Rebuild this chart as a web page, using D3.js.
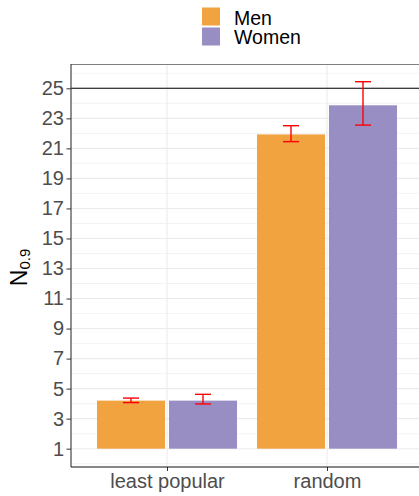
<!DOCTYPE html>
<html><head><meta charset="utf-8">
<script src="https://cdn.jsdelivr.net/npm/d3@7"></script>
<style>body{margin:0;background:#fff}svg{display:block;font-family:"Liberation Sans",Arial,sans-serif}</style>
</head><body><svg id="c" width="419" height="496"></svg>
<script>
const categories = ["least popular", "random"];
const groups = ["Men", "Women"];
const colors = ["#f1a340", "#998ec3"];
const menValues = [4.2, 21.93];
const womenValues = [4.2, 23.87];
const menLow = [4.07, 21.45];
const menHigh = [4.37, 22.51];
const womenLow = [3.98, 22.55];
const womenHigh = [4.62, 25.44];
const yTicks = [1, 3, 5, 7, 9, 11, 13, 15, 17, 19, 21, 23, 25];
const refLine = 25;
const barBase = 1;

const svg = d3.select("#c");
const L = 71, R = 423, T = 64, B = 467;
const y = d3.scaleLinear().domain([-0.22, 26.62]).range([B, T]);
const x = d3.scaleLinear().domain([0.4, 2.6]).range([L, R]);
const dodge = 0.225;

// grid
const g = svg.append("g");
d3.range(0, 27).forEach(v => {
  g.append("line").attr("x1", L).attr("x2", 419).attr("y1", y(v)).attr("y2", y(v))
   .attr("stroke", "#ebebeb").attr("stroke-width", v % 2 ? 1.1 : 0.6);
});
categories.forEach((c, i) => {
  g.append("line").attr("x1", x(i + 1)).attr("x2", x(i + 1)).attr("y1", T).attr("y2", B)
   .attr("stroke", "#ebebeb").attr("stroke-width", 1.1);
});
// top border
svg.append("line").attr("x1", L).attr("x2", 419).attr("y1", T + 0.5).attr("y2", T + 0.5).attr("stroke", "#7f7f7f").attr("stroke-width", 1);

// bars
const series = [
  {vals: menValues, lo: menLow, hi: menHigh, off: -dodge, col: colors[0]},
  {vals: womenValues, lo: womenLow, hi: womenHigh, off: dodge, col: colors[1]}
];
series.forEach(s => {
  s.vals.forEach((v, i) => {
    const c = i + 1 + s.off;
    const x0 = x(c - dodge) + 2, x1 = x(c + dodge) - 2;
    svg.append("rect").attr("x", x0).attr("width", x1 - x0)
      .attr("y", y(v)).attr("height", y(barBase) - y(v)).attr("fill", s.col);
  });
});
// reference line
svg.append("line").attr("x1", L).attr("x2", 419).attr("y1", y(refLine)).attr("y2", y(refLine))
  .attr("stroke", "#000").attr("stroke-width", 1.1);
// error bars
series.forEach(s => {
  s.vals.forEach((v, i) => {
    const c = i + 1 + s.off;
    const cx = x(c), hw = 8;
    const eg = svg.append("g").attr("stroke", "#ff0000").attr("stroke-width", 1.4).attr("fill", "none");
    eg.append("line").attr("x1", cx).attr("x2", cx).attr("y1", y(s.lo[i])).attr("y2", y(s.hi[i]));
    eg.append("line").attr("x1", cx - hw).attr("x2", cx + hw).attr("y1", y(s.lo[i])).attr("y2", y(s.lo[i]));
    eg.append("line").attr("x1", cx - hw).attr("x2", cx + hw).attr("y1", y(s.hi[i])).attr("y2", y(s.hi[i]));
  });
});

// axes
const ya = svg.append("g").attr("transform", `translate(${L},0)`)
  .call(d3.axisLeft(y).tickValues(yTicks).tickSize(4.5).tickPadding(2.5).tickFormat(d3.format("d")));
ya.select(".domain").remove();
ya.selectAll(".tick line").attr("stroke", "#333");
ya.selectAll("text").attr("font-size", 20).attr("fill", "#4d4d4d").attr("font-family", "Liberation Sans, Arial, sans-serif");
svg.append("line").attr("x1", L).attr("x2", L).attr("y1", T).attr("y2", B).attr("stroke", "#333").attr("stroke-width", 1.1);

const xa = svg.append("g").attr("transform", `translate(0,${B})`)
  .call(d3.axisBottom(x).tickValues([1, 2]).tickSize(4).tickPadding(3).tickFormat(d => categories[d - 1]));
xa.select(".domain").remove();
xa.selectAll(".tick line").attr("stroke", "#333");
xa.selectAll("text").attr("font-size", 20).attr("fill", "#4d4d4d").attr("font-family", "Liberation Sans, Arial, sans-serif");
svg.append("line").attr("x1", L).attr("x2", 419).attr("y1", B).attr("y2", B).attr("stroke", "#111").attr("stroke-width", 1.2);

// y label
const yl = svg.append("text").attr("transform", `translate(27,${(T + B) / 2 + 2}) rotate(-90)`)
  .attr("text-anchor", "middle").attr("font-size", 23).attr("fill", "#000");
yl.append("tspan").text("N");
yl.append("tspan").attr("font-size", 15).attr("dy", 3).text("0.9");

// legend
groups.forEach((gname, i) => {
  svg.append("rect").attr("x", 202).attr("y", 7.5 + i * 20).attr("width", 18).attr("height", 18).attr("fill", colors[i]);
  svg.append("text").attr("x", 234).attr("y", 25 + i * 19.3).attr("font-size", 19.5).attr("fill", "#000").text(gname);
});
</script></body></html>
